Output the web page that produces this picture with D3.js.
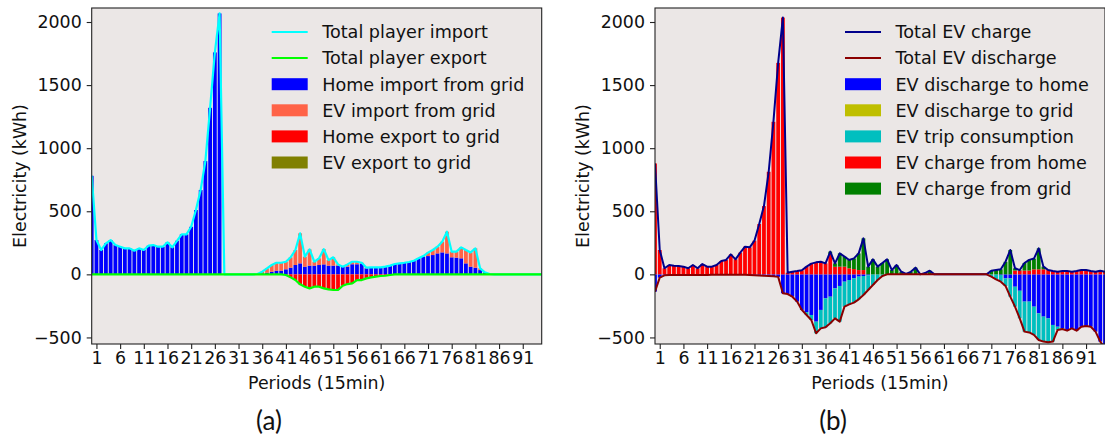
<!DOCTYPE html>
<html>
<head>
<meta charset="utf-8">
<script src="https://cdn.jsdelivr.net/npm/d3@7"></script>
<style>
  body { margin: 0; background: #fff; }
  text { font-family: "DejaVu Sans", sans-serif; fill: #111; }
</style>
</head>
<body>
<svg id="chart" width="1105" height="439"></svg>
<script>
// ---------------- DATA ----------------
var periods = d3.range(0, 96);
var xTicks = [1, 6, 11, 16, 21, 26, 31, 36, 41, 46, 51, 56, 61, 66, 71, 76, 81, 86, 91];
var yTicks = [-500, 0, 500, 1000, 1500, 2000];

// (a) player import / export
var totalImport = [
  781, 272, 193, 246, 272, 232, 219, 206, 206, 187,
  206, 193, 227, 232, 219, 219, 254, 214, 266, 317,
  317, 377, 510, 668, 898, 1320, 1759, 2068, 0, 0,
  0, 0, 0, 0, 0, 3, 21, 48, 74, 92,
  92, 100, 135, 193, 325, 140, 198, 100, 127, 200,
  113, 135, 79, 61, 79, 100, 100, 92, 53, 55,
  55, 55, 61, 69, 82, 87, 92, 98, 108, 127,
  145, 172, 193, 219, 259, 338, 180, 180, 214, 193,
  174, 206, 48, 16, 3, 0, 0, 0, 0, 0,
  0, 0, 0, 0, 0, 0];
var totalExport = [
  0, 0, 0, 0, 0, 0, 0, 0, 0, 0,
  0, 0, 0, 0, 0, 0, 0, 0, 0, 0,
  0, 0, 0, 0, 0, 0, 0, 0, 0, 0,
  0, 0, 0, 0, 0, 0, 0, 0, 0, 0,
  0, -5, -24, -45, -79, -98, -111, -98, -98, -111,
  -119, -124, -124, -90, -77, -71, -45, -45, -32, -24,
  -18, -13, -11, -5, 0, 0, 0, 0, 0, 0,
  0, 0, 0, 0, 0, 0, 0, 0, 0, 0,
  0, 0, 0, 0, 0, 0, 0, 0, 0, 0,
  0, 0, 0, 0, 0, 0];
var homeImport = [
  781, 272, 193, 246, 272, 232, 219, 206, 206, 187,
  206, 193, 227, 232, 219, 219, 254, 214, 266, 317,
  317, 377, 510, 668, 898, 1320, 1759, 2068, 0, 0,
  0, 0, 0, 0, 0, 0, 8, 13, 21, 29,
  29, 40, 53, 74, 87, 61, 69, 69, 74, 79,
  69, 69, 69, 61, 61, 80, 80, 85, 48, 55,
  55, 55, 61, 69, 82, 87, 92, 98, 108, 127,
  140, 145, 153, 166, 174, 166, 135, 132, 127, 87,
  61, 53, 34, 16, 3, 0, 0, 0, 0, 0,
  0, 0, 0, 0, 0, 0];
var evImport = [
  0, 0, 0, 0, 0, 0, 0, 0, 0, 0,
  0, 0, 0, 0, 0, 0, 0, 0, 0, 0,
  0, 0, 0, 0, 0, 0, 0, 0, 0, 0,
  0, 0, 0, 0, 0, 3, 13, 35, 53, 63,
  63, 60, 82, 119, 238, 79, 129, 31, 53, 121,
  44, 66, 10, 0, 18, 20, 20, 7, 5, 0,
  0, 0, 0, 0, 0, 0, 0, 0, 0, 0,
  5, 27, 40, 53, 85, 172, 45, 48, 87, 106,
  113, 153, 14, 0, 0, 0, 0, 0, 0, 0,
  0, 0, 0, 0, 0, 0];
var homeExport = [
  0, 0, 0, 0, 0, 0, 0, 0, 0, 0,
  0, 0, 0, 0, 0, 0, 0, 0, 0, 0,
  0, 0, 0, 0, 0, 0, 0, 0, 0, 0,
  0, 0, 0, 0, 0, 0, 0, 0, 0, 0,
  0, -5, -24, -45, -79, -98, -111, -98, -98, -111,
  -119, -124, -124, -90, -77, -71, -45, -45, -32, -24,
  -18, -13, -11, -5, 0, 0, 0, 0, 0, 0,
  0, 0, 0, 0, 0, 0, 0, 0, 0, 0,
  0, 0, 0, 0, 0, 0, 0, 0, 0, 0,
  0, 0, 0, 0, 0, 0];
var evExport = [
  0, 0, 0, 0, 0, 0, 0, 0, 0, 0,
  0, 0, 0, 0, 0, 0, 0, 0, 0, 0,
  0, 0, 0, 0, 0, 0, 0, 0, 0, 0,
  0, 0, 0, 0, 0, 0, 0, 0, 0, 0,
  0, 0, 0, 0, 0, 0, 0, 0, 0, 0,
  0, 0, 0, 0, 0, 0, 0, 0, 0, 0,
  0, 0, 0, 0, 0, 0, 0, 0, 0, 0,
  0, 0, 0, 0, 0, 0, 0, 0, 0, 0,
  0, 0, 0, 0, 0, 0, 0, 0, 0, 0,
  0, 0, 0, 0, 0, 0];

// (b) EV charge / discharge
var totalCharge = [
  879, 193, 48, 74, 69, 66, 61, 48, 74, 48,
  82, 61, 61, 74, 106, 114, 158, 119, 172, 219,
  214, 267, 399, 541, 813, 1209, 1676, 2035, 13, 21,
  26, 32, 61, 85, 95, 100, 87, 180, 87, 166,
  140, 114, 127, 166, 285, 61, 119, 61, 90, 119,
  34, 74, 21, 3, 20, 53, 0, 10, 29, 0,
  0, 0, 0, 0, 0, 0, 0, 0, 0, 0,
  0, 29, 35, 40, 100, 193, 48, 34, 90, 115,
  125, 206, 61, 34, 26, 21, 26, 26, 21, 26,
  34, 34, 26, 21, 29, 20];
var totalDischarge = [
  -137, -26, -8, -6, -6, -5, -5, -6, -5, -5,
  -5, -5, -4, -4, -4, -4, -4, -4, -4, -4,
  -6, -8, -10, -12, -13, -15, -20, -150, -156, -177,
  -216, -282, -322, -362, -467, -428, -420, -388, -349, -375,
  -256, -238, -224, -198, -164, -124, -84, -45, -13, 0,
  0, 0, 0, 0, 0, 0, 0, 0, 0, 0,
  0, 0, 0, 0, 0, 0, 0, 0, 0, 0,
  0, -18, -40, -58, -92, -177, -256, -349, -454, -460,
  -480, -520, -533, -539, -533, -441, -433, -446, -428, -446,
  -415, -409, -415, -454, -533, -586];
var dischargeToHome = [
  -137, -26, -8, -6, -6, -5, -5, -6, -5, -5,
  -5, -5, -4, -4, -4, -4, -4, -4, -4, -4,
  -6, -8, -10, -12, -13, -15, -20, -150, -156, -177,
  -216, -282, -300, -322, -375, -282, -190, -177, -111, -92,
  -58, -45, -32, -18, -13, -8, 0, 0, 0, 0,
  0, 0, 0, 0, 0, 0, 0, 0, 0, 0,
  0, 0, 0, 0, 0, 0, 0, 0, 0, 0,
  0, 0, 0, -5, -32, -32, -98, -130, -216, -216,
  -256, -309, -335, -349, -401, -415, -428, -446, -428, -446,
  -415, -409, -415, -454, -533, -586];
var dischargeToGrid = [
  0, 0, 0, 0, 0, 0, 0, 0, 0, 0,
  0, 0, 0, 0, 0, 0, 0, 0, 0, 0,
  0, 0, 0, 0, 0, 0, 0, 0, 0, 0,
  0, 0, 0, 0, 0, 0, 0, 0, 0, 0,
  0, 0, 0, 0, 0, 0, 0, 0, 0, 0,
  0, 0, 0, 0, 0, 0, 0, 0, 0, 0,
  0, 0, 0, 0, 0, 0, 0, 0, 0, 0,
  0, 0, 0, 0, 0, 0, 0, 0, 0, 0,
  0, 0, 0, 0, 0, 0, 0, 0, 0, 0,
  0, 0, 0, 0, 0, 0];
var tripConsumption = [
  0, 0, 0, 0, 0, 0, 0, 0, 0, 0,
  0, 0, 0, 0, 0, 0, 0, 0, 0, 0,
  0, 0, 0, 0, 0, 0, 0, 0, 0, 0,
  0, 0, -22, -40, -92, -146, -230, -211, -238, -283,
  -198, -193, -192, -180, -151, -116, -84, -45, -13, 0,
  0, 0, 0, 0, 0, 0, 0, 0, 0, 0,
  0, 0, 0, 0, 0, 0, 0, 0, 0, 0,
  0, -18, -40, -53, -60, -145, -158, -219, -238, -244,
  -224, -211, -198, -190, -132, -26, -5, 0, 0, 0,
  0, 0, 0, 0, 0, 0];
var chargeFromHome = [
  879, 193, 48, 74, 69, 66, 61, 48, 74, 48,
  82, 61, 61, 74, 106, 114, 158, 119, 172, 219,
  214, 267, 399, 541, 813, 1209, 1676, 2035, 13, 21,
  26, 32, 61, 85, 95, 100, 87, 160, 60, 61,
  61, 48, 42, 34, 34, 0, 0, 0, 0, 0,
  0, 0, 0, 0, 0, 0, 0, 0, 0, 0,
  0, 0, 0, 0, 0, 0, 0, 0, 0, 0,
  0, 0, 0, 0, 0, 0, 30, 30, 30, 30,
  40, 40, 40, 34, 26, 21, 26, 26, 21, 26,
  34, 34, 26, 21, 29, 20];
var chargeFromGrid = [
  0, 0, 0, 0, 0, 0, 0, 0, 0, 0,
  0, 0, 0, 0, 0, 0, 0, 0, 0, 0,
  0, 0, 0, 0, 0, 0, 0, 0, 0, 0,
  0, 0, 0, 0, 0, 0, 0, 20, 27, 105,
  79, 66, 85, 132, 251, 61, 119, 61, 90, 119,
  34, 74, 21, 3, 20, 53, 0, 10, 29, 0,
  0, 0, 0, 0, 0, 0, 0, 0, 0, 0,
  0, 29, 35, 40, 100, 193, 18, 4, 60, 85,
  85, 166, 21, 0, 0, 0, 0, 0, 0, 0,
  0, 0, 0, 0, 0, 0];

// ---------------- PANEL ----------------
var svg = d3.select("#chart");
var plotBg = "#ebe7e6";

function drawPanel(cfg) {
  var x = d3.scaleLinear().domain([0, 95]).range([cfg.left, cfg.right]);
  var y = d3.scaleLinear().domain([-552, 2111]).range([cfg.bottom, cfg.top]);

  var g = svg.append("g").attr("id", cfg.id);

  g.append("rect")
    .attr("x", cfg.left).attr("y", cfg.top)
    .attr("width", cfg.right - cfg.left).attr("height", cfg.bottom - cfg.top)
    .attr("fill", plotBg);

  g.append("clipPath").attr("id", cfg.id + "-clip")
    .append("rect")
    .attr("x", cfg.left).attr("y", cfg.top)
    .attr("width", cfg.right - cfg.left).attr("height", cfg.bottom - cfg.top);

  var plot = g.append("g").attr("clip-path", "url(#" + cfg.id + "-clip)");

  // STACKED BARS
  var rows = periods.map(function (p, i) {
    var r = { period: p };
    cfg.bars.forEach(function (b) { r[b.key] = b.values[i]; });
    return r;
  });
  var stack = d3.stack()
    .keys(cfg.bars.map(function (b) { return b.key; }))
    .offset(d3.stackOffsetDiverging);
  var series = stack(rows);

  var barW = 0.8;
  plot.selectAll(".layer")
    .data(series)
    .enter()
    .append("g")
    .attr("class", "layer")
    .attr("fill", function (d, i) { return cfg.bars[i].color; })
    .selectAll("rect")
    .data(function (d) { return d; })
    .enter()
    .append("rect")
    .attr("x", function (d) { return x(d.data.period - barW / 2); })
    .attr("width", x(barW) - x(0))
    .attr("y", function (d) { return y(Math.max(d[0], d[1])); })
    .attr("height", function (d) { return Math.abs(y(d[0]) - y(d[1])); });

  // LINES
  var line = d3.line()
    .x(function (d, i) { return x(periods[i]); })
    .y(function (d) { return y(d); });

  cfg.lines.forEach(function (l) {
    plot.append("path")
      .attr("d", line(l.values))
      .attr("fill", "none")
      .attr("stroke", l.color)
      .attr("stroke-width", l.width)
      .attr("stroke-linejoin", "round");
  });

  // AXES
  var yAxis = g.append("g")
    .attr("transform", "translate(" + cfg.left + ",0)")
    .call(d3.axisLeft(y).tickValues(yTicks).tickSize(5).tickPadding(5)
      .tickFormat(function (d) { return d < 0 ? "\u2212" + Math.abs(d) : d; }));
  var xAxis = g.append("g")
    .attr("transform", "translate(0," + cfg.bottom + ")")
    .call(d3.axisBottom(x).tickValues(xTicks).tickSize(5).tickPadding(3));

  [xAxis, yAxis].forEach(function (a) {
    a.select(".domain").remove();
    a.selectAll("line").attr("stroke", "#222").attr("stroke-width", 1.1);
    a.selectAll("text")
      .style("font-family", "DejaVu Sans")
      .style("font-size", "17.4px")
      .attr("fill", "#111");
  });

  // FRAME
  g.append("rect")
    .attr("x", cfg.left).attr("y", cfg.top)
    .attr("width", cfg.right - cfg.left).attr("height", cfg.bottom - cfg.top)
    .attr("fill", "none")
    .attr("stroke", "#222")
    .attr("stroke-width", 1.1);

  // AXIS TITLES
  g.append("text")
    .attr("transform", "translate(" + cfg.yLabelX + "," + (cfg.top + cfg.bottom) / 2 + ") rotate(-90)")
    .attr("text-anchor", "middle")
    .attr("dy", "0.35em")
    .style("font-size", "17.4px")
    .text("Electricity (kWh)");

  g.append("text")
    .attr("x", (cfg.left + cfg.right) / 2)
    .attr("y", 389)
    .attr("text-anchor", "middle")
    .style("font-size", "17.4px")
    .text("Periods (15min)");

  g.append("text")
    .attr("x", cfg.captionX)
    .attr("y", 430)
    .attr("text-anchor", "middle")
    .style("font-family", "Lato, 'Open Sans', sans-serif")
    .style("font-size", "26px")
    .text(cfg.caption);

  // LEGEND
  var items = cfg.lines.map(function (l) { return { type: "line", color: l.color, label: l.label }; })
    .concat(cfg.bars.map(function (b) { return { type: "patch", color: b.color, label: b.label }; }));

  var legend = g.append("g");
  items.forEach(function (it, i) {
    var cy = cfg.legendY + i * 26.1;
    if (it.type === "line") {
      legend.append("line")
        .attr("x1", cfg.legendX).attr("x2", cfg.legendX + 36)
        .attr("y1", cy).attr("y2", cy)
        .attr("stroke", it.color)
        .attr("stroke-width", 2);
    } else {
      legend.append("rect")
        .attr("x", cfg.legendX).attr("y", cy - 6)
        .attr("width", 36).attr("height", 12)
        .attr("fill", it.color);
    }
    legend.append("text")
      .attr("x", cfg.legendX + 50.5)
      .attr("y", cy)
      .attr("dy", "0.36em")
      .style("font-size", "17.6px")
      .text(it.label);
  });
}

drawPanel({
  id: "panelA",
  left: 91.7, right: 541.7, top: 8, bottom: 344,
  yLabelX: 19.5, caption: "(a)", captionX: 269,
  legendX: 271.7, legendY: 32,
  bars: [
    { key: "homeImport", values: homeImport, color: "#0000ff", label: "Home import from grid" },
    { key: "evImport", values: evImport, color: "#ff6347", label: "EV import from grid" },
    { key: "homeExport", values: homeExport, color: "#ff0000", label: "Home export to grid" },
    { key: "evExport", values: evExport, color: "#808000", label: "EV export to grid" }
  ],
  lines: [
    { values: totalImport, color: "#00ffff", width: 2.2, label: "Total player import" },
    { values: totalExport, color: "#00ff00", width: 2.2, label: "Total player export" }
  ]
});

drawPanel({
  id: "panelB",
  left: 655, right: 1105, top: 8, bottom: 344,
  yLabelX: 582.5, caption: "(b)", captionX: 833,
  legendX: 845, legendY: 32,
  bars: [
    { key: "dischargeToHome", values: dischargeToHome, color: "#0000ff", label: "EV discharge to home" },
    { key: "dischargeToGrid", values: dischargeToGrid, color: "#bfbf00", label: "EV discharge to grid" },
    { key: "tripConsumption", values: tripConsumption, color: "#00bfbf", label: "EV trip consumption" },
    { key: "chargeFromHome", values: chargeFromHome, color: "#ff0000", label: "EV charge from home" },
    { key: "chargeFromGrid", values: chargeFromGrid, color: "#008000", label: "EV charge from grid" }
  ],
  lines: [
    { values: totalCharge, color: "#00008b", width: 2, label: "Total EV charge" },
    { values: totalDischarge, color: "#8b0000", width: 2, label: "Total EV discharge" }
  ]
});
</script>
</body>
</html>
